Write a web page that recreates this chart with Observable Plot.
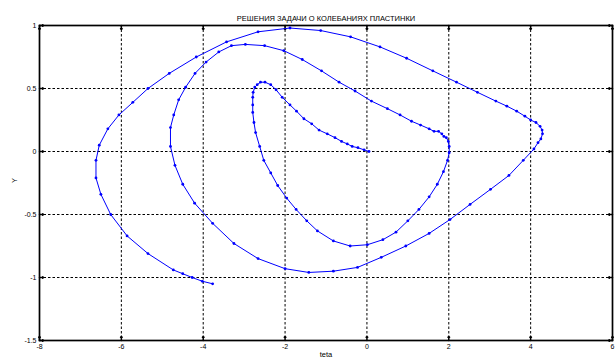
<!DOCTYPE html>
<html>
<head>
<meta charset="utf-8">
<script src="https://cdn.jsdelivr.net/npm/d3@7"></script>
<script src="https://cdn.jsdelivr.net/npm/@observablehq/plot@0.6"></script>
<style>
  html, body { margin: 0; padding: 0; background: #fff; }
</style>
</head>
<body>
<div id="chart"></div>
<script>
const title = "РЕШЕНИЯ ЗАДАЧИ О КОЛЕБАНИЯХ ПЛАСТИНКИ";
const xLabel = "teta";
const yLabel = "Y";
const xTicks = [-8, -6, -4, -2, 0, 2, 4, 6];
const yTicks = [1, 0.5, 0, -0.5, -1, -1.5];

const teta = [
  0.05,-0.07,-0.22,-0.36,-0.48,-0.62,-0.78,-0.97,-1.17,-1.35,-1.54,-1.72,-1.88,-2.07,-2.22,-2.35,-2.49,-2.60,-2.68,-2.74,-2.78,-2.79,-2.79,-2.79,-2.76,-2.72,-2.62,-2.52,-2.35,
  -2.18,-1.96,-1.73,-1.47,-1.21,-0.82,-0.41,0.01,0.39,0.71,
  1.00,1.27,1.52,1.72,1.87,
  1.97,2.01,2.01,1.99,1.94,1.88,1.83,1.75,1.64,1.52,1.31,1.09,
  0.81,0.50,0.11,-0.29,-0.68,-1.11,-1.58,-2.03,-2.50,-2.97,-3.31,-3.62,-3.93,
  -4.20,-4.43,-4.60,-4.72,-4.80,-4.80,-4.69,-4.50,-4.21,-3.77,
  -3.25,-2.66,-2.00,-1.42,-0.82,-0.23,0.35,0.95,
  1.52,2.03,2.52,3.02,3.47,
  3.82,4.08,4.18,4.25,4.29,4.28,4.23,4.13,4.00,3.86,3.66,3.42,3.15,2.70,2.19,1.61,0.97,
  0.32,-0.40,-1.13,-1.88,-2.66,-3.43,-4.17,-4.83,-5.35,-5.72,-6.06,-6.33,-6.54,-6.62,-6.62,
  -6.50,-6.26,-5.86,-5.35,-4.73,-4.50,-4.27,-4.02,-3.77
];
const Y = [
  0.00,0.013,0.03,0.04,0.06,0.08,0.11,0.14,0.17,0.22,0.26,0.32,0.37,0.43,0.49,0.53,0.55,0.55,0.53,0.51,0.47,0.43,0.37,0.31,0.23,0.15,0.04,-0.07,-0.17,
  -0.27,-0.37,-0.46,-0.55,-0.63,-0.71,-0.75,-0.74,-0.70,-0.64,
  -0.55,-0.46,-0.36,-0.26,-0.16,
  -0.07,-0.01,0.04,0.08,0.11,0.12,0.14,0.16,0.16,0.18,0.21,0.24,
  0.29,0.34,0.40,0.48,0.55,0.64,0.73,0.80,0.84,0.85,0.84,0.79,0.71,
  0.62,0.51,0.41,0.29,0.19,0.04,-0.11,-0.26,-0.41,-0.57,
  -0.73,-0.85,-0.93,-0.96,-0.95,-0.92,-0.84,-0.75,
  -0.65,-0.54,-0.42,-0.30,-0.19,
  -0.07,0.02,0.07,0.10,0.14,0.17,0.20,0.23,0.25,0.28,0.32,0.36,0.40,0.47,0.55,0.64,0.74,
  0.83,0.91,0.96,0.98,0.95,0.87,0.75,0.62,0.50,0.39,0.29,0.18,0.05,-0.07,-0.21,
  -0.34,-0.50,-0.67,-0.81,-0.94,-0.97,-1.00,-1.03,-1.05
];

const data = teta.map((t, i) => ({teta: t, Y: Y[i]}));
const fmt = d => String(d);

const chart = Plot.plot({
  width: 615,
  height: 361,
  marginLeft: 39,
  marginRight: 3,
  marginTop: 25,
  marginBottom: 21,
  style: {fontFamily: "'Liberation Sans', Arial, sans-serif", fontSize: "7px", background: "#fff", color: "#000"},
  x: {domain: [-8, 6]},
  y: {domain: [-1.5, 1]},
  marks: [
    Plot.gridX(xTicks, {stroke: "#000", strokeOpacity: 1, strokeDasharray: "2.5,2"}),
    Plot.gridY(yTicks, {stroke: "#000", strokeOpacity: 1, strokeDasharray: "2.5,2"}),
    Plot.axisX({ticks: xTicks, tickSize: 0, tickPadding: 4, tickFormat: fmt, label: null, fontSize: 7}),
    Plot.axisY({ticks: yTicks, tickSize: 0, tickPadding: 3, tickFormat: fmt, label: null, fontSize: 7}),
    Plot.vector(xTicks, {x: d => d, frameAnchor: "bottom", rotate: 0, length: 4, anchor: "start", stroke: "#000"}),
    Plot.vector(xTicks, {x: d => d, frameAnchor: "top", rotate: 180, length: 4, anchor: "start", stroke: "#000"}),
    Plot.vector(yTicks, {y: d => d, frameAnchor: "left", rotate: 90, length: 4, anchor: "start", stroke: "#000"}),
    Plot.vector(yTicks, {y: d => d, frameAnchor: "right", rotate: -90, length: 4, anchor: "start", stroke: "#000"}),
    Plot.frame({stroke: "#000", strokeWidth: 1.7}),
    Plot.line(data, {x: "teta", y: "Y", stroke: "#0000ff", strokeWidth: 1}),
    Plot.dot(data, {x: "teta", y: "Y", r: 1.4, fill: "#0000ff", stroke: null}),
    Plot.text([title], {frameAnchor: "top", dy: -10, fontSize: 7.5}),
    Plot.text([xLabel], {frameAnchor: "bottom", dy: 16, fontSize: 7.5}),
    Plot.text([yLabel], {frameAnchor: "left", dx: -25, rotate: -90, fontSize: 7.5})
  ]
});
document.getElementById("chart").appendChild(chart);
</script>
</body>
</html>
